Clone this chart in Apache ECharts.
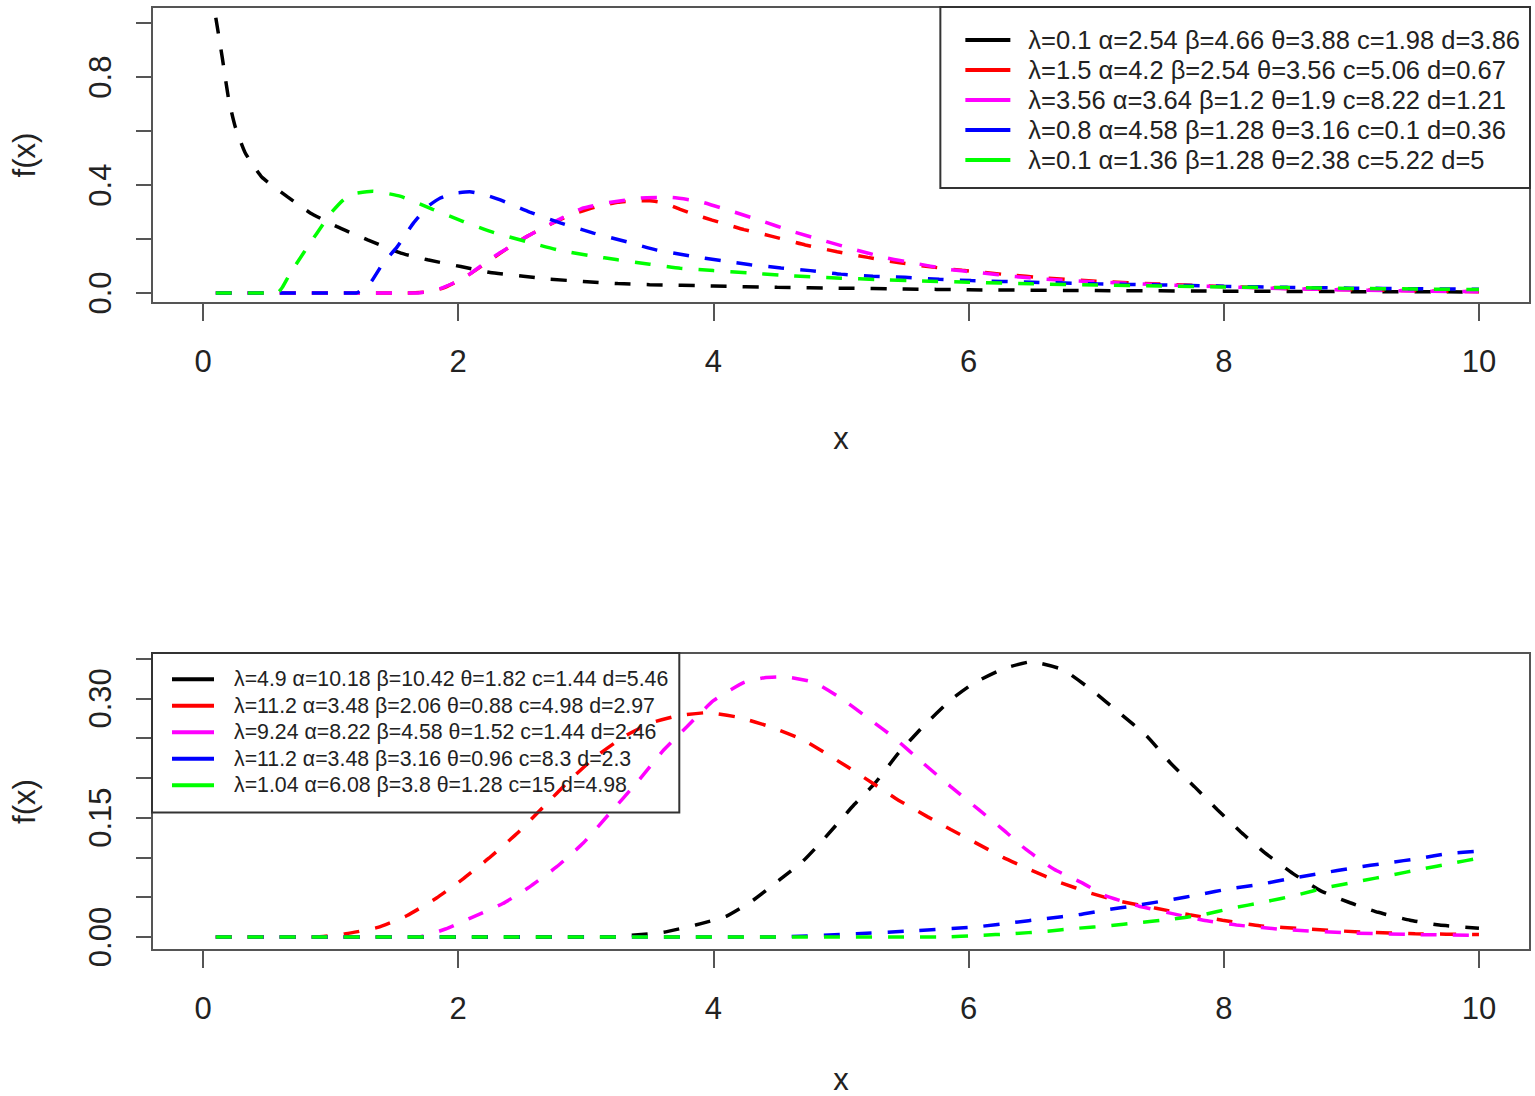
<!DOCTYPE html>
<html>
<head>
<meta charset="utf-8">
<script src="https://cdn.jsdelivr.net/npm/echarts@6/dist/echarts.min.js"></script>
<style>
html,body{margin:0;padding:0;background:#fff;}
#chart{width:1535px;height:1096px;}
</style>
</head>
<body>
<div id="chart"></div>
<script>
// ---------- data ----------
var xTicks = [0, 2, 4, 6, 8, 10];
var yTicksTop = [0, 0.2, 0.4, 0.6, 0.8, 1.0];
var yLabelsTop = [0, 0.4, 0.8];
var yTicksBot = [0, 0.05, 0.10, 0.15, 0.20, 0.25, 0.30, 0.35];
var yLabelsBot = [0, 0.15, 0.30];

var namesTop = [
  "λ=0.1 α=2.54 β=4.66 θ=3.88 c=1.98 d=3.86",
  "λ=1.5 α=4.2 β=2.54 θ=3.56 c=5.06 d=0.67",
  "λ=3.56 α=3.64 β=1.2 θ=1.9 c=8.22 d=1.21",
  "λ=0.8 α=4.58 β=1.28 θ=3.16 c=0.1 d=0.36",
  "λ=0.1 α=1.36 β=1.28 θ=2.38 c=5.22 d=5"
];
var namesBot = [
  "λ=4.9 α=10.18 β=10.42 θ=1.82 c=1.44 d=5.46",
  "λ=11.2 α=3.48 β=2.06 θ=0.88 c=4.98 d=2.97",
  "λ=9.24 α=8.22 β=4.58 θ=1.52 c=1.44 d=2.46",
  "λ=11.2 α=3.48 β=3.16 θ=0.96 c=8.3 d=2.3",
  "λ=1.04 α=6.08 β=3.8 θ=1.28 c=15 d=4.98"
];
var colors = ["#000000", "#ff0000", "#ff00ff", "#0000ff", "#00ff00"];

var blackTop = [[0.1,1.02],[0.15,0.875],[0.2,0.72],[0.25,0.62],[0.33,0.52],[0.46,0.43],[0.66,0.357],[0.84,0.297],[1.05,0.246],[1.29,0.197],[1.55,0.148],[1.76,0.123],[2.02,0.098],[2.25,0.076],[2.51,0.062],[2.72,0.051],[2.98,0.043],[3.25,0.035],[3.5,0.031],[4,0.026],[4.5,0.021],[5,0.018],[5.5,0.015],[6,0.012],[7,0.009],[8,0.007],[9,0.005],[10,0.004]];
var redTop = [[0.1,0],[1.6,0],[1.75,0.004],[1.88,0.018],[2.0,0.045],[2.09,0.07],[2.2,0.105],[2.33,0.148],[2.45,0.185],[2.54,0.21],[2.66,0.24],[2.78,0.268],[2.9,0.293],[2.98,0.305],[3.1,0.322],[3.25,0.336],[3.4,0.342],[3.5,0.342],[3.62,0.333],[3.74,0.31],[3.86,0.29],[3.99,0.27],[4.12,0.252],[4.24,0.235],[4.46,0.21],[4.72,0.178],[4.97,0.153],[5.21,0.132],[5.46,0.112],[5.7,0.097],[5.95,0.084],[6.3,0.068],[6.6,0.056],[7,0.044],[7.5,0.033],[8,0.024],[8.5,0.017],[9,0.012],[9.5,0.008],[10,0.005]];
var magentaTop = [[0.1,0],[1.68,0],[1.8,0.008],[1.88,0.02],[2.0,0.045],[2.09,0.07],[2.2,0.108],[2.33,0.15],[2.45,0.185],[2.54,0.21],[2.66,0.24],[2.78,0.27],[2.9,0.298],[2.98,0.315],[3.18,0.335],[3.43,0.352],[3.67,0.354],[3.9,0.338],[4.15,0.302],[4.38,0.267],[4.62,0.228],[4.86,0.195],[5.1,0.162],[5.36,0.13],[5.56,0.112],[5.84,0.088],[6.09,0.075],[6.34,0.062],[6.61,0.051],[6.96,0.042],[7.5,0.031],[8,0.023],[8.5,0.016],[9,0.011],[9.5,0.007],[10,0.005]];
var blueTop = [[0.1,0],[1.2,0],[1.31,0.037],[1.41,0.11],[1.52,0.17],[1.65,0.26],[1.76,0.32],[1.86,0.352],[1.97,0.37],[2.09,0.375],[2.2,0.365],[2.33,0.345],[2.56,0.30],[2.8,0.26],[3.06,0.222],[3.32,0.19],[3.55,0.16],[3.81,0.138],[4.06,0.12],[4.29,0.105],[4.53,0.093],[4.76,0.083],[5.0,0.07],[5.25,0.062],[5.5,0.058],[5.77,0.051],[6.02,0.046],[6.5,0.04],[7,0.034],[7.5,0.03],[8,0.025],[8.5,0.021],[9,0.018],[9.5,0.016],[10,0.014]];
var greenTop = [[0.1,0],[0.58,0],[0.62,0.02],[0.68,0.07],[0.79,0.15],[0.89,0.22],[1.0,0.295],[1.1,0.345],[1.18,0.368],[1.33,0.377],[1.55,0.358],[1.8,0.31],[2.04,0.265],[2.28,0.224],[2.54,0.19],[2.78,0.16],[3.04,0.138],[3.25,0.123],[3.5,0.107],[3.74,0.092],[4.0,0.083],[4.27,0.075],[4.52,0.066],[4.76,0.06],[5.0,0.055],[5.29,0.05],[5.6,0.045],[6.0,0.04],[6.5,0.034],[7,0.03],[7.5,0.026],[8,0.022],[8.5,0.02],[9,0.017],[9.5,0.015],[10,0.013]];

var blackBot = [[0.1,0],[3.2,0],[3.36,0.002],[3.61,0.006],[3.86,0.015],[4.1,0.026],[4.31,0.046],[4.52,0.072],[4.7,0.095],[4.86,0.122],[5.09,0.164],[5.27,0.194],[5.45,0.231],[5.64,0.264],[5.86,0.298],[6.04,0.319],[6.27,0.337],[6.49,0.346],[6.74,0.336],[6.96,0.311],[7.18,0.282],[7.4,0.252],[7.58,0.219],[7.77,0.189],[7.95,0.16],[8.14,0.131],[8.32,0.106],[8.54,0.08],[8.76,0.058],[8.99,0.043],[9.21,0.031],[9.46,0.021],[9.69,0.015],[10,0.011]];
var redBot = [[0.1,0],[0.88,0],[1.12,0.004],[1.37,0.012],[1.6,0.027],[1.83,0.049],[2.03,0.072],[2.24,0.099],[2.46,0.13],[2.67,0.164],[2.88,0.198],[3.08,0.227],[3.3,0.252],[3.51,0.269],[3.72,0.278],[3.95,0.282],[4.2,0.276],[4.45,0.264],[4.7,0.248],[5.05,0.214],[5.27,0.191],[5.45,0.172],[5.68,0.151],[5.86,0.135],[6.06,0.118],[6.27,0.10],[6.49,0.084],[6.71,0.069],[6.96,0.055],[7.18,0.045],[7.47,0.036],[7.73,0.028],[7.99,0.021],[8.28,0.014],[8.65,0.01],[9.1,0.006],[9.5,0.004],[10,0.003]];
var magentaBot = [[0.1,0],[1.69,0],[1.9,0.01],[2.1,0.024],[2.35,0.042],[2.56,0.063],[2.77,0.088],[2.98,0.118],[3.19,0.156],[3.4,0.194],[3.61,0.235],[3.79,0.264],[4.0,0.297],[4.24,0.32],[4.4,0.326],[4.56,0.327],[4.79,0.32],[5.01,0.299],[5.23,0.273],[5.42,0.25],[5.64,0.219],[5.86,0.189],[6.08,0.16],[6.27,0.135],[6.45,0.11],[6.67,0.085],[6.89,0.068],[7.07,0.052],[7.33,0.039],[7.58,0.03],[7.84,0.021],[8.1,0.015],[8.5,0.009],[9,0.005],[9.5,0.003],[10,0.002]];
var blueBot = [[0.1,0],[4.5,0],[5.12,0.004],[5.6,0.008],[6.08,0.013],[6.34,0.018],[6.6,0.023],[6.86,0.028],[7.08,0.034],[7.33,0.04],[7.59,0.047],[7.8,0.053],[8.06,0.061],[8.28,0.066],[8.54,0.074],[8.76,0.08],[9.02,0.087],[9.28,0.093],[9.54,0.099],[9.76,0.105],[10,0.108]];
var greenBot = [[0.1,0],[5.8,0],[6.08,0.002],[6.34,0.004],[6.6,0.007],[6.86,0.011],[7.1,0.014],[7.33,0.018],[7.58,0.022],[7.84,0.028],[8.06,0.036],[8.32,0.044],[8.58,0.053],[8.8,0.062],[9.06,0.07],[9.32,0.078],[9.54,0.085],[9.8,0.093],[10,0.099]];

var topData = [blackTop, redTop, magentaTop, blueTop, greenTop];
var botData = [blackBot, redBot, magentaBot, blueBot, greenBot];

// ---------- chart ----------
var FONT = "'Liberation Sans', Arial, sans-serif";
var TXT = "#222";
var BOX = "#555";

function xAxisFor(gi, gap) {
  return {
    type: 'value', gridIndex: gi, min: -0.4, max: 10.4,
    axisLine: {show: false, onZero: false},
    splitLine: {show: false},
    axisTick: {show: true, length: 18, customValues: xTicks, lineStyle: {color: BOX, width: 2}},
    axisLabel: {customValues: xTicks, margin: 43, fontSize: 31, color: TXT, fontFamily: FONT},
    name: 'x', nameLocation: 'middle', nameGap: gap,
    nameTextStyle: {fontSize: 31, color: TXT, fontFamily: FONT, verticalAlign: 'middle', lineHeight: 20}
  };
}
function yAxisFor(gi, min, max, ticks, labels, dec) {
  return {
    type: 'value', gridIndex: gi, min: min, max: max,
    axisLine: {show: false, onZero: false},
    splitLine: {show: false},
    axisTick: {show: true, length: 16, customValues: ticks, lineStyle: {color: BOX, width: 2}},
    axisLabel: {customValues: labels, rotate: 90, margin: 36, fontSize: 31, color: TXT, fontFamily: FONT,
      formatter: function (v) { return Number(v).toFixed(dec); }},
    name: 'f(x)', nameLocation: 'middle', nameGap: 112, nameRotate: 90,
    nameTextStyle: {fontSize: 31, color: TXT, fontFamily: FONT}
  };
}

var series = [];
function addSeries(names, datas, gi) {
  for (var i = 0; i < names.length; i++) {
    series.push({
      type: 'line', name: names[i], xAxisIndex: gi, yAxisIndex: gi,
      data: datas[i], showSymbol: false, symbol: 'none', smooth: 0.15,
      color: colors[i],
      itemStyle: {color: colors[i]},
      lineStyle: {color: colors[i], width: 3.5, type: [16, 16]},
      animation: false, silent: true
    });
  }
}
addSeries(namesTop, topData, 0);
addSeries(namesBot, botData, 1);

var chart = echarts.init(document.getElementById('chart'), null, {renderer: 'svg'});
chart.setOption({
  backgroundColor: '#fff',
  animation: false,
  grid: [
    {left: 152, top: 7, width: 1378, height: 296, show: true, borderColor: BOX, borderWidth: 2, outerBoundsMode: 'none', containLabel: false},
    {left: 152, top: 653, width: 1378, height: 297, show: true, borderColor: BOX, borderWidth: 2, outerBoundsMode: 'none', containLabel: false}
  ],
  xAxis: [xAxisFor(0, 135), xAxisFor(1, 129)],
  yAxis: [
    yAxisFor(0, -0.037, 1.06, yTicksTop, yLabelsTop, 1),
    yAxisFor(1, -0.0164, 0.357, yTicksBot, yLabelsBot, 2)
  ],
  legend: [
    {
      data: namesTop, orient: 'vertical', right: 5, top: 7,
      padding: [18, 10, 13, 25], itemGap: 0, itemWidth: 45, itemHeight: 4, icon: 'rect',
      borderColor: '#333', borderWidth: 2, selectedMode: false,
      textStyle: {fontSize: 25.5, fontFamily: FONT, color: TXT, lineHeight: 30, padding: [0, 0, 0, 13]}
    },
    {
      data: namesBot, orient: 'vertical', left: 152, top: 653,
      padding: [13, 11, 14, 20], itemGap: 0, itemWidth: 42, itemHeight: 4, icon: 'rect',
      borderColor: '#333', borderWidth: 2, selectedMode: false,
      textStyle: {fontSize: 21.3, fontFamily: FONT, color: TXT, lineHeight: 26.5, padding: [0, 0, 0, 15]}
    }
  ],
  series: series
});
</script>
</body>
</html>
